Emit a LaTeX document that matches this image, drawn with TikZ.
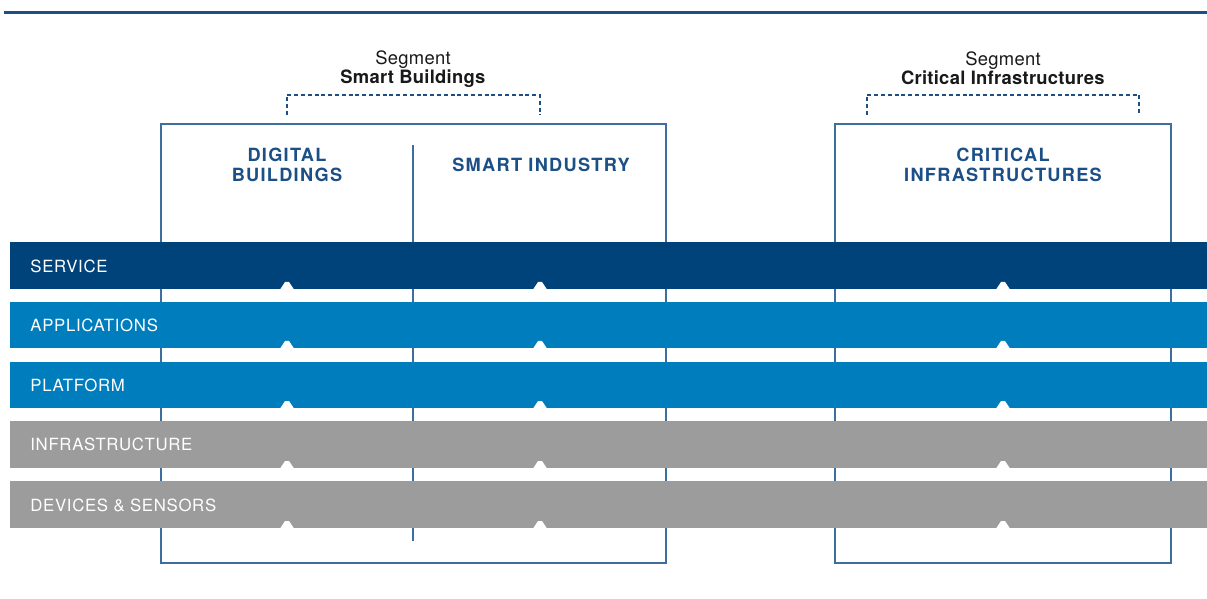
\documentclass[tikz,border=0pt]{standalone}
\usepackage{fontspec}
\setmainfont{TeX Gyre Heros}
\newfontfamily\headfont[LetterSpace=7]{TeX Gyre Heros}
\newfontfamily\bandfont[LetterSpace=4]{TeX Gyre Heros}
\newfontfamily\segfont[LetterSpace=1.5]{TeX Gyre Heros}
\usepackage{tikz}
\usetikzlibrary{positioning}
\definecolor{navy}{RGB}{0,66,122}
\definecolor{ocean}{RGB}{0,125,189}
\definecolor{stone}{RGB}{156,156,156}
\definecolor{inkblue}{RGB}{27,79,134}
\definecolor{framecol}{RGB}{62,110,158}

\begin{document}
\begin{tikzpicture}[x=0.5pt,y=-0.5pt]
	\tikzstyle{every node} = [inner sep=0pt]
	\tikzstyle{band label} = [anchor=west, text=white, font=\bandfont\fontsize{8.4}{10}\selectfont]
	\tikzstyle{heading} = [align=center, text=inkblue, font=\headfont\bfseries\fontsize{9.1}{10}\selectfont]
	\tikzstyle{segment} = [align=center, text=black!90, font=\segfont\fontsize{9.2}{9.6}\selectfont]
	\tikzstyle{frame} = [draw=framecol, line width=0.75pt]
	\tikzstyle{bracket} = [draw=inkblue, line width=0.6pt, dash pattern=on 2pt off 1.4pt]
\useasboundingbox (0,0) rectangle (1207,599);
% top rule
	\path[draw][line width=1.5pt, inkblue] (4,13) -- (1207,13);
% segment titles
\node[segment] (segbuild) at (413,69) {Segment\\\textbf{Smart Buildings}};
\node[segment] (segcrit) at (1003,68) {Segment\\\textbf{Critical Infrastructures}};
	\path[bracket] (287,115) -- (287,95) -- (540,95) -- (540,115);
	\path[bracket] (867,115) -- (867,95) -- (1139,95) -- (1139,115);
% frames
	\path[frame] (161,124) rectangle (666,563);
	\path[frame] (835,124) rectangle (1171,563);
	\path[frame] (413,145) -- (413,541);
\node[heading] (digital) at (287,165) {DIGITAL\\BUILDINGS};
\node[heading] (industry) at (541,165) {SMART INDUSTRY};
\node[heading] (critical) at (1003,165) {CRITICAL\\INFRASTRUCTURES};
% layers
	\path[fill=navy] (10,242) rectangle (1207,289);
	\path[fill=ocean] (10,302) rectangle (1207,348);
	\path[fill=ocean] (10,362) rectangle (1207,408);
	\path[fill=stone] (10,421) rectangle (1207,468);
	\path[fill=stone] (10,481) rectangle (1207,528);
\node[band label] (service) at (30,266) {SERVICE};
\node[band label] (apps) at (30,325) {APPLICATIONS};
\node[band label] (platform) at (30,385) {PLATFORM};
\node[band label] (infra) at (30,444) {INFRASTRUCTURE};
\node[band label] (devices) at (30,505) {DEVICES \& SENSORS};
% notches
\foreach \b in {289,348,408,468,528}
	\foreach \c in {287,540,1003}
		\path[fill=white] (\c-7,\b+0.5) -- (\c-2,\b-7) -- (\c+2,\b-7) -- (\c+7,\b+0.5) -- cycle;
    \end{tikzpicture}
\end{document}
